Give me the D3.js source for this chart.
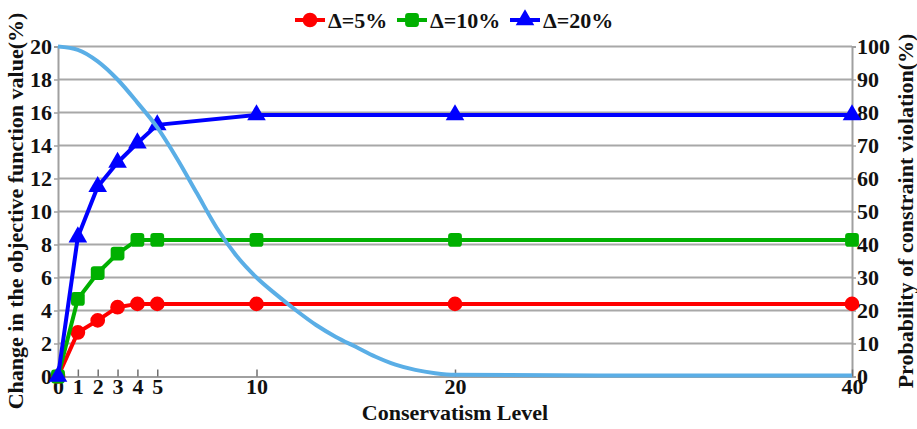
<!DOCTYPE html>
<html>
<head>
<meta charset="utf-8">
<script src="https://cdn.jsdelivr.net/npm/d3@7"></script>
<style>
  html, body { margin: 0; padding: 0; background: #fff; }
  svg { display: block; }
  text { font-family: "Liberation Serif", "Times New Roman", serif; font-weight: bold; fill: #111; }
</style>
</head>
<body>
<svg id="chart" width="917" height="429"></svg>
<script>
// Conservatism levels at which the objective change was evaluated
const levels = [0, 1, 2, 3, 4, 5, 10, 20, 40];
const xTicks = [0, 1, 2, 3, 4, 5, 10, 20, 40];

// Change in the objective function value (%) for each uncertainty level Δ
const delta5  = [0, 2.67, 3.4, 4.2, 4.4, 4.4, 4.4, 4.4, 4.4];
const delta10 = [0, 4.7, 6.27, 7.45, 8.28, 8.28, 8.28, 8.28, 8.28];
const delta20 = [0, 8.45, 11.5, 12.97, 14.15, 15.25, 15.85, 15.85, 15.85];

// Probability of constraint violation (%) against conservatism level
const probLevels = [0, 1, 2, 3, 4, 5, 6, 7, 8, 9, 10, 11, 12, 13, 14, 15, 16, 17, 18, 19, 20, 25, 30, 40];
const probValues = [100, 99, 95.5, 90, 83, 75.5, 66, 55.5, 45, 36.5, 30, 24.8, 20, 15.6, 12, 9, 6, 3.6, 2, 1, 0.5, 0.35, 0.3, 0.3];

const leftTicks = [0, 2, 4, 6, 8, 10, 12, 14, 16, 18, 20];
const rightTicks = [0, 10, 20, 30, 40, 50, 60, 70, 80, 90, 100];

const seriesNames = ["\u0394=5%", "\u0394=10%", "\u0394=20%"];
const seriesColors = ["#ff0000", "#00b000", "#0000ff"];
const seriesShapes = ["circle", "square", "triangle"];
const seriesValues = [delta5, delta10, delta20];

const svg = d3.select("#chart");

const x = d3.scaleLinear().domain([0, 40]).range([58, 852]);
const yL = d3.scaleLinear().domain([0, 20]).range([376.5, 46.5]);
const yR = d3.scaleLinear().domain([0, 100]).range([376.5, 46.5]);

// Horizontal gridlines
svg.append("g")
  .selectAll("line")
  .data(leftTicks.filter(d => d > 0))
  .join("line")
  .attr("x1", x(0)).attr("x2", x(40))
  .attr("y1", d => yL(d)).attr("y2", d => yL(d))
  .attr("stroke", "#a8a8a8").attr("stroke-width", 2);

// Left axis
const leftAxis = svg.append("g")
  .attr("transform", `translate(${x(0)},0)`)
  .call(d3.axisLeft(yL).tickValues(leftTicks).tickSize(4).tickPadding(2).tickFormat(d3.format("d")));
leftAxis.select(".domain").attr("stroke", "#a0a0a0").attr("stroke-width", 2);
leftAxis.selectAll(".tick line").attr("stroke", "#a0a0a0").attr("stroke-width", 1.5);
leftAxis.selectAll("text").style("font-size", "22px").attr("fill", "#111");

// Right axis
const rightAxis = svg.append("g")
  .attr("transform", `translate(${x(40)},0)`)
  .call(d3.axisRight(yR).tickValues(rightTicks).tickSize(4).tickPadding(1).tickFormat(d3.format("d")));
rightAxis.select(".domain").attr("stroke", "#a0a0a0").attr("stroke-width", 2);
rightAxis.selectAll(".tick line").attr("stroke", "#a0a0a0").attr("stroke-width", 1.5);
rightAxis.selectAll("text").style("font-size", "22px").attr("fill", "#111");

// Bottom axis with ticks pointing into the plot
const bottomAxis = svg.append("g")
  .attr("transform", `translate(0,${yL(0)})`)
  .call(d3.axisBottom(x).tickValues(xTicks).tickSizeInner(-7).tickSizeOuter(0).tickPadding(5).tickFormat(d3.format("d")));
bottomAxis.select(".domain").attr("stroke", "#a0a0a0").attr("stroke-width", 2);
bottomAxis.selectAll(".tick line").attr("stroke", "#707070").attr("stroke-width", 1.5);
bottomAxis.selectAll("text").style("font-size", "22px").attr("fill", "#111").attr("dy", "0.55em");

// Marker path generators
function markerPath(shape, size) {
  if (shape === "circle") return d3.symbol(d3.symbolCircle, size)();
  if (shape === "square") {
    const h = Math.sqrt(size) / 2, r = h * 0.45;
    return `M${-h + r},${-h}H${h - r}Q${h},${-h} ${h},${-h + r}V${h - r}Q${h},${h} ${h - r},${h}H${-h + r}Q${-h},${h} ${-h},${h - r}V${-h + r}Q${-h},${-h} ${-h + r},${-h}Z`;
  }
  return d3.symbol(d3.symbolTriangle, size)();
}
const markerSize = { circle: 170, square: 190, triangle: 150 };

// Series lines and markers
seriesValues.forEach((vals, i) => {
  const pts = levels.map((l, j) => [l, vals[j]]);
  const g = svg.append("g");
  g.append("path")
    .datum(pts)
    .attr("fill", "none")
    .attr("stroke", seriesColors[i])
    .attr("stroke-width", 4)
    .attr("stroke-linejoin", "round")
    .attr("d", d3.line().x(d => x(d[0])).y(d => yL(d[1])));
  g.selectAll("path.m")
    .data(pts)
    .join("path")
    .attr("class", "m")
    .attr("transform", d => `translate(${x(d[0])},${yL(d[1])})`)
    .attr("d", markerPath(seriesShapes[i], markerSize[seriesShapes[i]]))
    .attr("fill", seriesColors[i]);
});

// Probability of constraint violation curve (right axis)
svg.append("path")
  .datum(probLevels.map((l, j) => [l, probValues[j]]))
  .attr("fill", "none")
  .attr("stroke", "#5aaee6")
  .attr("stroke-width", 4)
  .attr("d", d3.line().curve(d3.curveMonotoneX).x(d => x(d[0])).y(d => yR(d[1])));

// Axis titles
svg.append("text")
  .attr("transform", `translate(23,211) rotate(-90)`)
  .attr("text-anchor", "middle")
  .style("font-size", "22px")
  .text("Change in the objective function value(%)");

svg.append("text")
  .attr("transform", `translate(913,211) rotate(-90)`)
  .attr("text-anchor", "middle")
  .style("font-size", "22px")
  .text("Probability of constraint violation(%)");

svg.append("text")
  .attr("x", 455).attr("y", 420)
  .attr("text-anchor", "middle")
  .style("font-size", "22px")
  .text("Conservatism Level");

// Legend
const legendX = [295, 397, 510];
const legend = svg.append("g");
seriesNames.forEach((name, i) => {
  const g = legend.append("g").attr("transform", `translate(${legendX[i]},20)`);
  g.append("line").attr("x1", 0).attr("x2", 30).attr("stroke", seriesColors[i]).attr("stroke-width", 4);
  g.append("path")
    .attr("transform", "translate(15,0)")
    .attr("d", markerPath(seriesShapes[i], markerSize[seriesShapes[i]]))
    .attr("fill", seriesColors[i]);
  g.append("text")
    .attr("x", 33).attr("y", 8)
    .style("font-size", "22px")
    .text(name);
});
</script>
</body>
</html>
